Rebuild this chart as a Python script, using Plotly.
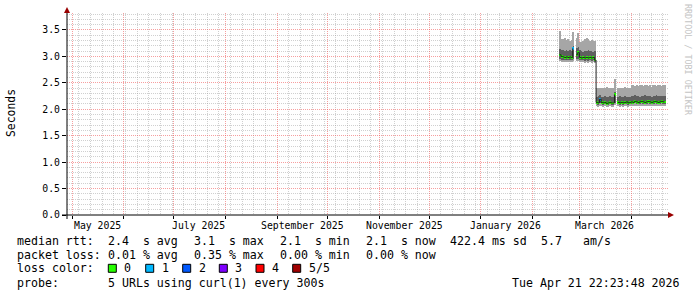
import plotly.graph_objects as go
import pandas as pd

# ---------------- data ----------------
dates = pd.date_range("2026-02-17", periods=64, freq="D")

rtt_max = [3.48, 3.33, 3.32, 3.34, 3.31, 3.33, 3.30, 3.31, 3.47, None, 3.34, 3.44, 3.28, 3.27, 3.30, 3.33, 3.34, 3.32, 3.30, 3.31, 3.30, 3.29,
           2.40, 2.41, 2.40, 2.41, 2.40, 2.41, 2.42, 2.40, 2.41, 2.40, 2.41, 2.58, None, 2.41, 2.40, 2.41, 2.40, 2.42, 2.41, 2.40, 2.41,
           2.45, 2.46, 2.44, 2.45, 2.44, 2.46, 2.45, 2.44, 2.46, 2.45, 2.44, 2.45, 2.43, 2.46, 2.45, 2.44, 2.46, 2.45, 2.44, 2.45, 2.45]
rtt_hi = [3.14, 3.12, 3.13, 3.11, 3.12, 3.10, 3.12, 3.11, 3.20, None, 3.15, 3.18, 3.12, 3.10, 3.09, 3.11, 3.10, 3.12, 3.11, 3.10, 3.09, 3.10,
          2.24, 2.25, 2.27, 2.24, 2.23, 2.25, 2.24, 2.23, 2.25, 2.24, 2.23, 2.33, None, 2.24, 2.25, 2.23, 2.24, 2.25, 2.24, 2.23, 2.24,
          2.26, 2.25, 2.27, 2.25, 2.26, 2.24, 2.26, 2.25, 2.27, 2.25, 2.26, 2.25, 2.24, 2.26, 2.25, 2.27, 2.25, 2.26, 2.25, 2.26, 2.25]
rtt_median = [3.03, 3.00, 2.99, 2.98, 2.99, 2.98, 2.99, 2.98, 3.15, None, 3.03, 3.07, 2.98, 2.97, 2.98, 2.97, 2.98, 2.97, 2.98, 2.97, 2.98, 2.93,
              2.13, 2.12, 2.19, 2.13, 2.12, 2.13, 2.11, 2.12, 2.13, 2.12, 2.12, 2.28, None, 2.13, 2.12, 2.13, 2.12, 2.13, 2.14, 2.12, 2.13,
              2.14, 2.13, 2.15, 2.14, 2.13, 2.14, 2.15, 2.14, 2.13, 2.14, 2.15, 2.14, 2.13, 2.14, 2.15, 2.14, 2.13, 2.14, 2.15, 2.14, 2.14]
rtt_lo = [2.95, 2.94, 2.93, 2.93, 2.94, 2.93, 2.93, 2.93, 2.96, None, 2.95, 2.96, 2.93, 2.93, 2.93, 2.92, 2.93, 2.92, 2.93, 2.92, 2.93, 2.90,
          2.10, 2.09, 2.11, 2.10, 2.09, 2.10, 2.08, 2.09, 2.10, 2.09, 2.09, 2.12, None, 2.10, 2.09, 2.10, 2.09, 2.10, 2.10, 2.09, 2.10,
          2.10, 2.10, 2.11, 2.10, 2.10, 2.10, 2.11, 2.10, 2.10, 2.10, 2.11, 2.10, 2.10, 2.10, 2.11, 2.10, 2.10, 2.10, 2.11, 2.10, 2.10]
rtt_min = [2.91, 2.90, 2.90, 2.89, 2.90, 2.90, 2.89, 2.90, 2.91, None, 2.91, 2.92, 2.90, 2.89, 2.90, 2.89, 2.90, 2.89, 2.90, 2.89, 2.90, 2.88,
           2.07, 2.06, 2.07, 2.07, 2.06, 2.07, 2.05, 2.06, 2.07, 2.06, 2.06, 2.08, None, 2.07, 2.06, 2.07, 2.06, 2.07, 2.07, 2.06, 2.07,
           2.07, 2.07, 2.08, 2.07, 2.07, 2.07, 2.08, 2.07, 2.07, 2.07, 2.08, 2.07, 2.07, 2.07, 2.08, 2.07, 2.07, 2.07, 2.08, 2.07, 2.07]
loss = [0, 0, 0, 0, 0, 0, 0, 0, 1, None, 0, 0, 0, 0, 0, 0, 0, 0, 0, 0, 0, 0,
        0, 0, 1, 0, 0, 0, 0, 0, 0, 0, 0, 0, None, 0, 0, 0, 0, 0, 0, 0, 0,
        0, 0, 0, 0, 0, 0, 0, 0, 0, 0, 0, 0, 0, 0, 0, 0, 0, 0, 0, 0, 0]

loss_labels = ["0", "1", "2", "3", "4", "5/5"]
loss_colors = ["#26ff00", "#00b8ff", "#0059ff", "#7e00ff", "#ff0000", "#a00000"]

month_label_dates = ["2025-05-16", "2025-07-16", "2025-09-16", "2025-11-16", "2026-01-16", "2026-03-16"]
month_labels = ["May 2025", "July 2025", "September 2025", "November 2025", "January 2026", "March 2026"]

rtt_stats = ["2.4  s avg", "3.1  s max", "2.1  s min", "2.1  s now", "422.4 ms sd", "5.7", "am/s"]
loss_stats = ["0.01 % avg", "0.35 % max", "0.00 % min", "0.00 % now"]
probe_text = "5 URLs using curl(1) every 300s"
stamp_text = "Tue Apr 21 22:23:48 2026"

# ---------------- geometry helpers ----------------
W_PX, H_PX = 697, 297
L, R, T, B = 67, 668, 13, 215
PW, PH = R - L, B - T
Y_TOP = 3.821
X_START, X_END = "2025-04-28 00:00", "2026-04-23 02:00"
DAY = 86400000
MONO = "DejaVu Sans Mono"


def fx(x):
    return (x - L) / PW


def fy(y):
    return (B - y) / PH


def nb(s):
    return s.replace(" ", "\u00a0")


fig = go.Figure()


def band(lo, hi, color):
    base, h = [], []
    for a, b in zip(lo, hi):
        if a is None or b is None:
            base.append(None)
            h.append(None)
        else:
            base.append(a)
            h.append(b - a)
    fig.add_trace(go.Bar(x=dates, y=h, base=base, width=DAY, offset=0,
                         marker=dict(color=color, line=dict(width=0)),
                         hoverinfo="skip", showlegend=False))


LIGHT = "#a6a6a6"
DARK = "#5f5f5f"
band(rtt_min, rtt_lo, LIGHT)
band(rtt_lo, rtt_hi, DARK)
band(rtt_hi, rtt_max, LIGHT)

fig.add_trace(go.Scatter(x=dates, y=rtt_median, mode="lines", line=dict(color="#202020", width=1, shape="hv"),
                         hoverinfo="skip", showlegend=False))

thick = 0.05
med_base = [None if m is None else m - thick / 2 for m in rtt_median]
med_h = [None if m is None else thick for m in rtt_median]
med_col = [loss_colors[0] if l is None else loss_colors[l] for l in loss]
fig.add_trace(go.Bar(x=dates, y=med_h, base=med_base, width=DAY, offset=0,
                     marker=dict(color=med_col, line=dict(width=0)), hoverinfo="skip", showlegend=False))

MAJOR = "rgba(240,80,80,0.55)"
MINOR = "rgba(150,150,150,0.45)"

fig.update_layout(
    width=W_PX, height=H_PX,
    margin=dict(l=L, r=W_PX - R, t=T, b=H_PX - B, autoexpand=False),
    paper_bgcolor="white", plot_bgcolor="white",
    barmode="overlay", bargap=0, showlegend=False,
    font=dict(family=MONO, color="#000000"),
    xaxis=dict(type="date", range=[X_START, X_END], tickmode="linear", tick0="2025-05-01", dtick="M1",
               showticklabels=False, showgrid=True, gridcolor=MAJOR, griddash="1px,1px", gridwidth=1,
               ticks="outside", ticklen=3, tickcolor="#000", showline=False, zeroline=False,
               minor=dict(tick0="2025-05-05", dtick=7 * DAY, showgrid=True, gridcolor=MINOR,
                          griddash="1px,1px", gridwidth=1, ticks="")),
    yaxis=dict(range=[0, Y_TOP], tickmode="linear", tick0=0, dtick=0.5, tickformat=".1f",
               showgrid=True, gridcolor=MAJOR, griddash="1px,1px", gridwidth=1,
               ticks="outside", ticklen=4, tickcolor="#000", showline=False, zeroline=False,
               tickfont=dict(family=MONO, size=9.8, color="#000"),
               minor=dict(tick0=0, dtick=0.1, showgrid=True, gridcolor=MINOR, griddash="1px,1px",
                          gridwidth=1, ticks="")),
)

shapes = []
# axes
shapes.append(dict(type="line", xref="paper", yref="paper", x0=fx(62), x1=fx(669), y0=0, y1=0,
                   line=dict(color="#000", width=1)))
shapes.append(dict(type="line", xref="paper", yref="paper", x0=0, x1=0, y0=fy(219), y1=fy(9),
                   line=dict(color="#000", width=1)))
# arrows
shapes.append(dict(type="path", xref="paper", yref="paper",
                   path=f"M {fx(668)} {fy(212)} L {fx(674)} {fy(215)} L {fx(668)} {fy(218)} Z",
                   fillcolor="#990000", line=dict(width=0)))
shapes.append(dict(type="path", xref="paper", yref="paper",
                   path=f"M {fx(64)} {fy(13)} L {fx(67)} {fy(7)} L {fx(70)} {fy(13)} Z",
                   fillcolor="#990000", line=dict(width=0)))

ann = []


def text(x, y, s, size=11.6, anchor="left", color="#000", angle=0):
    ann.append(dict(x=fx(x), y=fy(y), xref="paper", yref="paper", text=nb(s), showarrow=False,
                    xanchor=anchor, yanchor="middle", textangle=angle,
                    font=dict(family=MONO, size=size, color=color)))


# month labels
for d, lab in zip(month_label_dates, month_labels):
    ann.append(dict(x=d, y=fy(225), xref="x", yref="paper", text=nb(lab), showarrow=False,
                    xanchor="center", yanchor="middle", font=dict(family=MONO, size=9.8, color="#000")))

# y title & watermark
text(11, 113, "Seconds", size=11.4, anchor="center", angle=-90)
text(688, 60, "RRDTOOL / TOBI OETIKER", size=8.4, anchor="center", color="#c4c4c4", angle=90)

# legend lines
Y1, Y2, Y3, Y4 = 240.7, 254.5, 268.3, 282.6
text(15, Y1, "median rtt:")
for xx, s in zip([106, 192, 278, 364, 448, 539, 581], rtt_stats):
    text(xx, Y1, s)
text(15, Y2, "packet loss:")
for xx, s in zip([106, 192, 278, 364], loss_stats):
    text(xx, Y2, s)
text(15, Y3, "loss color:")
box_x = [108.3, 145.7, 182.7, 219.3, 256.0, 292.7]
for bx, lab, col in zip(box_x, loss_labels, loss_colors):
    shapes.append(dict(type="rect", xref="paper", yref="paper", x0=fx(bx), x1=fx(bx + 8),
                       y0=fy(264.3 + 8), y1=fy(264.3), fillcolor=col, line=dict(color="#000", width=1)))
    text(bx + 14, Y3, lab)
text(15, Y4, "probe:")
text(106, Y4, probe_text)
text(682, Y4, stamp_text, anchor="right")

fig.update_layout(shapes=shapes, annotations=ann)
fig.write_html("out.html")
